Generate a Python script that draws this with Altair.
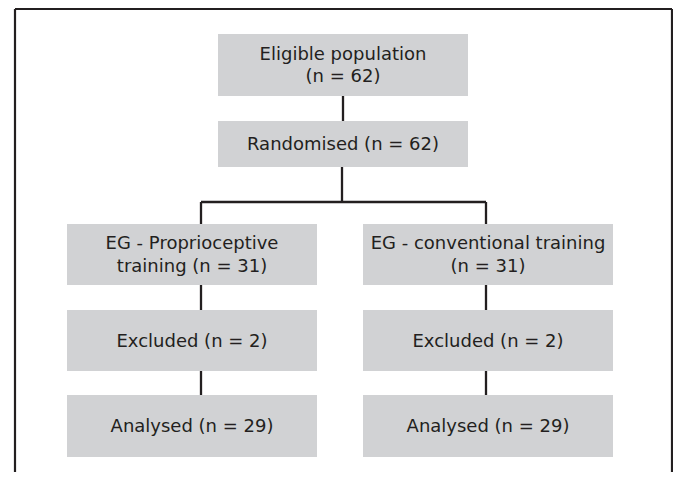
import altair as alt
import pandas as pd

# ---- content ----
labels = [
    "Eligible population\n(n = 62)",
    "Randomised (n = 62)",
    "EG - Proprioceptive\ntraining (n = 31)",
    "EG - conventional training\n(n = 31)",
    "Excluded (n = 2)",
    "Excluded (n = 2)",
    "Analysed (n = 29)",
    "Analysed (n = 29)",
]

# ---- layout (page pixel coordinates) ----
box_x0 = [218, 218, 67, 363, 67, 363, 67, 363]
box_x1 = [468, 468, 317, 613, 317, 613, 317, 613]
box_y0 = [34, 121, 224, 224, 310, 310, 395, 395]
box_y1 = [96, 167, 285, 285, 371, 371, 457, 457]

# connectors: (x0, x1, y0, y1)
link_x0 = [343, 342, 201, 201, 486, 201, 486, 201, 486]
link_x1 = [343, 342, 486, 201, 486, 201, 486, 201, 486]
link_y0 = [96, 167, 202, 202, 202, 285, 285, 371, 371]
link_y1 = [121, 202, 202, 224, 224, 310, 310, 395, 395]

# frame
frame_x0 = [15, 15, 672]
frame_x1 = [672, 15, 672]
frame_y0 = [9, 9, 9]
frame_y1 = [9, 472, 472]

LINE_H = 22.5

boxes = pd.DataFrame({
    "label": labels,
    "x0": box_x0, "x1": box_x1, "y0": box_y0, "y1": box_y1,
})
boxes["cx"] = (boxes["x0"] + boxes["x1"]) / 2
nlines = boxes["label"].str.count("\n") + 1
boxes["ty"] = (boxes["y0"] + boxes["y1"]) / 2 + 1 - (nlines - 1) * LINE_H / 2

links = pd.DataFrame({"x0": link_x0, "x1": link_x1, "y0": link_y0, "y1": link_y1})
frame = pd.DataFrame({"x0": frame_x0, "x1": frame_x1, "y0": frame_y0, "y1": frame_y1})

xs = alt.Scale(domain=[8, 673], nice=False, zero=False)
ys = alt.Scale(domain=[8, 472], nice=False, zero=False, reverse=True)

INK = "#231f20"

rects = alt.Chart(boxes).mark_rect(fill="#d1d2d4", clip=False).encode(
    x=alt.X("x0:Q", scale=xs, axis=None),
    x2="x1:Q",
    y=alt.Y("y0:Q", scale=ys, axis=None),
    y2="y1:Q",
)

texts = alt.Chart(boxes).mark_text(
    font="DejaVu Sans", fontSize=18, color=INK, lineBreak="\n",
    lineHeight=LINE_H, align="center", baseline="middle",
).encode(
    x=alt.X("cx:Q", scale=xs, axis=None),
    y=alt.Y("ty:Q", scale=ys, axis=None),
    text="label:N",
)

link_rules = alt.Chart(links).mark_rule(color=INK, strokeWidth=2.3).encode(
    x=alt.X("x0:Q", scale=xs, axis=None),
    x2="x1:Q",
    y=alt.Y("y0:Q", scale=ys, axis=None),
    y2="y1:Q",
)

frame_rules = alt.Chart(frame).mark_rule(color=INK, strokeWidth=2.2, clip=False).encode(
    x=alt.X("x0:Q", scale=xs, axis=None),
    x2="x1:Q",
    y=alt.Y("y0:Q", scale=ys, axis=None),
    y2="y1:Q",
)

chart = alt.layer(rects, link_rules, frame_rules, texts).properties(
    width=665, height=464,
    autosize=alt.AutoSizeParams(type="none"),
    padding=0,
    background="white",
).configure_view(stroke=None)

chart.save("out.html", embed_options={"renderer": "svg", "actions": False})
